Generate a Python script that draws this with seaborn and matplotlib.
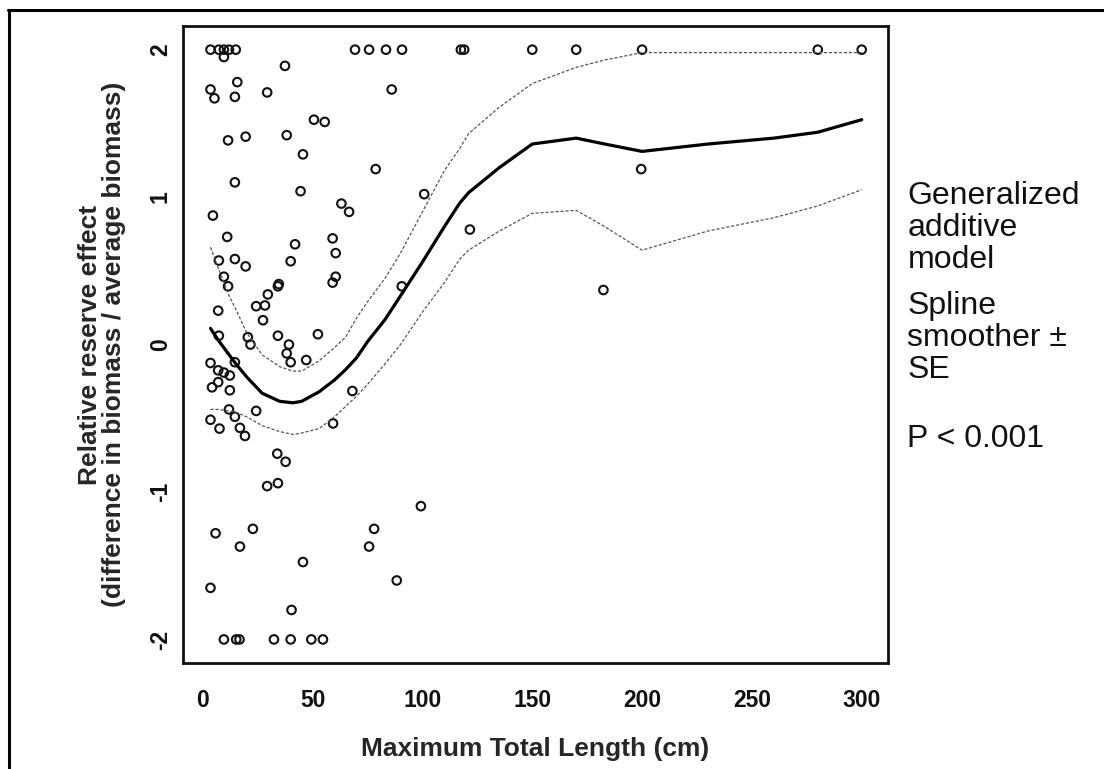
# GAM of reserve effect vs. maximum total length
import numpy as np
import pandas as pd
import matplotlib
matplotlib.use('Agg')
import matplotlib.pyplot as plt
from matplotlib.lines import Line2D
import seaborn as sns

length_cm = [3.5, 7.3, 9.6, 11.9, 15.0, 69.3, 75.7, 83.4, 90.7, 117.5, 119.0, 150, 170, 200, 280, 300,
             9.6, 37.4, 15.7, 3.5, 5.3, 14.6, 29.3, 86.0, 50.6, 55.5, 11.5, 19.5, 38.2, 45.6, 78.7,
             199.6, 14.6, 44.5, 100.8, 4.6, 63.1, 66.6, 121.6, 11.1, 42.0, 59.1, 7.3, 14.6, 19.5,
             40.0, 60.5, 9.6, 11.5, 34.2, 34.6, 60.5, 59.1, 90.6, 182.4, 29.6, 24.3, 28.3, 7.0,
             27.4, 7.3, 20.5, 21.7, 34.2, 39.2, 38.2, 40.0, 52.4, 47.1, 3.5, 7.0, 9.6, 12.3, 14.6,
             7.0, 4.2, 12.3, 68.1, 11.9, 24.3, 14.6, 3.5, 7.6, 16.9, 19.2, 59.3, 33.9, 37.7, 29.3,
             34.2, 5.8, 22.8, 16.9, 45.6, 78.0, 75.7, 99.3, 88.3, 3.5, 40.4,
             9.6, 15.2, 16.7, 32.4, 40.0, 49.4, 54.7]
reserve_effect = [2, 2, 2, 2, 2, 2, 2, 2, 2, 2, 2, 2, 2, 2, 2, 2,
                  1.95, 1.89, 1.78, 1.73, 1.67, 1.68, 1.71, 1.73, 1.525, 1.51, 1.385, 1.41, 1.42, 1.29, 1.19,
                  1.19, 1.10, 1.04, 1.02, 0.875, 0.956, 0.90, 0.78, 0.73, 0.68, 0.72, 0.57, 0.58, 0.53,
                  0.565, 0.62, 0.46, 0.395, 0.395, 0.41, 0.46, 0.42, 0.395, 0.37, 0.34, 0.26, 0.265, 0.23,
                  0.165, 0.06, 0.05, 0.0, 0.06, 0.0, -0.06, -0.12, 0.07, -0.105, -0.125, -0.175, -0.19, -0.21, -0.12,
                  -0.255, -0.29, -0.31, -0.315, -0.44, -0.45, -0.49, -0.51, -0.57, -0.565, -0.62, -0.535, -0.74, -0.795, -0.96,
                  -0.94, -1.28, -1.25, -1.37, -1.475, -1.25, -1.37, -1.096, -1.60, -1.65, -1.80,
                  -2, -2, -2, -2, -2, -2, -2]

# spline smoother and +/- SE
fit_x = [3.5, 7, 12, 15, 20, 27, 35, 41, 45, 53, 60, 65, 70, 75, 83, 90, 100, 110, 117, 121,
         135, 150, 170, 183, 200, 230, 260, 280, 300]
fit_y = [0.11, 0.03, -0.07, -0.13, -0.22, -0.33, -0.385, -0.395, -0.385, -0.32, -0.24, -0.17, -0.09, 0.02,
         0.17, 0.33, 0.56, 0.80, 0.96, 1.03, 1.20, 1.36, 1.40, 1.36, 1.31, 1.36, 1.40, 1.44, 1.525]
upper_y = [0.66, 0.52, 0.33, 0.24, 0.08, -0.07, -0.15, -0.18, -0.18, -0.11, -0.02, 0.05, 0.18, 0.29,
           0.45, 0.62, 0.90, 1.18, 1.33, 1.43, 1.61, 1.77, 1.88, 1.93, 1.98, 1.98, 1.98, 1.98, 1.98]
lower_y = [-0.44, -0.44, -0.45, -0.46, -0.49, -0.55, -0.59, -0.61, -0.60, -0.57, -0.49, -0.42, -0.35, -0.27,
           -0.13, 0.00, 0.22, 0.42, 0.58, 0.64, 0.77, 0.89, 0.91, 0.80, 0.64, 0.77, 0.86, 0.94, 1.05]

pts = pd.DataFrame({'length': length_cm, 'effect': reserve_effect})
fit = pd.DataFrame({'length': fit_x, 'fit': fit_y, 'upper': upper_y, 'lower': lower_y})

sns.set_style('white')
plt.rcParams['font.family'] = ['Liberation Sans', 'DejaVu Sans']

fig = plt.figure(figsize=(11.04, 7.69), dpi=100)
ax = fig.add_axes([0.1658, 0.1378, 0.6386, 0.8283])

for col in ['upper', 'lower']:
    sns.lineplot(data=fit, x='length', y=col, ax=ax, sort=False, estimator=None,
                 color='#555555', lw=0.9, linestyle=(0, (2.5, 1.5)))
sns.lineplot(data=fit, x='length', y='fit', ax=ax, sort=False, estimator=None,
             color='black', lw=2.3)
sns.scatterplot(data=pts, x='length', y='effect', ax=ax, marker='o', s=38,
                facecolor='none', edgecolor='#111111', linewidth=1.5)

ax.set_xlim(-9, 312)
ax.set_ylim(-2.16, 2.16)
ax.set_xticks([0, 50, 100, 150, 200, 250, 300])
ax.set_xticklabels(['0', '50', '100', '150', '200', '250', '300'], fontweight='bold', fontsize=16.5)
ax.set_yticks([-2, -1, 0, 1, 2])
ax.set_yticklabels(['-2', '-1', '0', '1', '2'], fontweight='bold', fontsize=16.5,
                   rotation=90, va='center')
ax.tick_params(axis='x', direction='out', length=8, width=1.2, pad=11, colors='#111111')
ax.tick_params(axis='y', direction='out', length=8, width=1.2, pad=0, colors='#111111')
for sp in ax.spines.values():
    sp.set_visible(True)
    sp.set_linewidth(2.0)
    sp.set_color('#111111')

ax.set_xlabel('Maximum Total Length (cm)', fontsize=19, fontweight='bold', labelpad=18)
ax.set_ylabel('Relative reserve effect\n(difference in biomass / average biomass)',
              fontsize=19, fontweight='bold', linespacing=1.0)
ax.yaxis.set_label_coords(-0.081, 0.5)

# annotation on the right (y values are baselines of the last line of each block)
fig.text(0.822, 1 - 268 / 769, 'Generalized\nadditive\nmodel', fontsize=23, va='baseline',
         ha='left', linespacing=1.08, color='#111111')
fig.text(0.822, 1 - 378 / 769, 'Spline\nsmoother \u00b1\nSE', fontsize=23, va='baseline',
         ha='left', linespacing=1.08, color='#111111')
fig.text(0.822, 1 - 447 / 769, 'P < 0.001', fontsize=23, va='baseline', ha='left', color='#111111')

# outer frame (top and left edges of the original panel)
fig.add_artist(Line2D([0.007, 1.0], [0.987, 0.987], transform=fig.transFigure, color='black', lw=2.2))
fig.add_artist(Line2D([0.008, 0.008], [0.0, 0.987], transform=fig.transFigure, color='black', lw=2.2))

fig.savefig('out.png', dpi=100)
